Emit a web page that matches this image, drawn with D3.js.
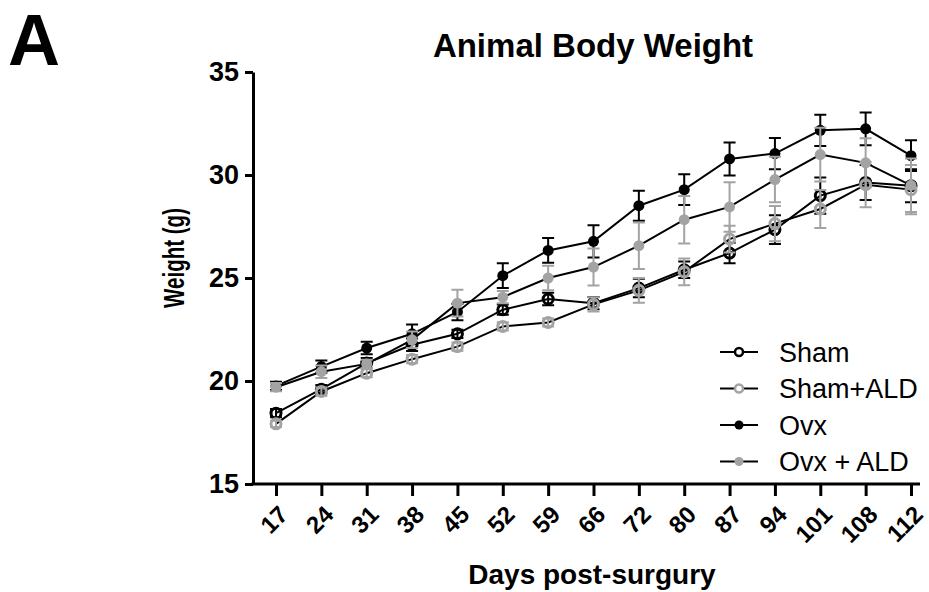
<!DOCTYPE html>
<html>
<head>
<meta charset="utf-8">
<script src="https://cdn.jsdelivr.net/npm/d3@7"></script>
<style>
  body { margin: 0; background: #fff; }
  text { font-family: 'Liberation Sans', Arial, sans-serif; }
</style>
</head>
<body>
<div id="chart"></div>
<script>
// days post-surgery (categorical x axis)
const days = ['17', '24', '31', '38', '45', '52', '59', '66', '72', '80', '87', '94', '101', '108', '112'];
const yTicks = [15, 20, 25, 30, 35];

// mean body weight (g) and error per group
const sham = [18.44, 19.6, 20.87, 21.76, 22.29, 23.46, 23.98, 23.78, 24.51, 25.4, 26.21, 27.35, 29.0, 29.64, 29.48];
const shamErr = [0.2, 0.2, 0.25, 0.3, 0.2, 0.25, 0.3, 0.3, 0.45, 0.4, 0.5, 0.7, 0.88, 0.85, 0.8];
const shamAld = [17.92, 19.49, 20.38, 21.06, 21.67, 22.65, 22.84, 23.72, 24.4, 25.3, 26.89, 27.64, 28.35, 29.53, 29.29];
const shamAldErr = [0.15, 0.2, 0.2, 0.2, 0.2, 0.2, 0.2, 0.35, 0.6, 0.65, 0.65, 0.85, 0.92, 1.1, 1.2];
const ovx = [19.76, 20.7, 21.6, 22.29, 23.35, 25.11, 26.34, 26.78, 28.51, 29.29, 30.78, 31.04, 32.17, 32.24, 30.94];
const ovxErr = [0.2, 0.3, 0.3, 0.45, 0.4, 0.6, 0.6, 0.78, 0.73, 0.75, 0.8, 0.76, 0.76, 0.8, 0.75];
const ovxAld = [19.7, 20.45, 20.83, 22.0, 23.78, 24.07, 25.0, 25.53, 26.57, 27.83, 28.45, 29.78, 30.99, 30.59, 29.5];
const ovxAldErr = [0.2, 0.3, 0.2, 0.4, 0.65, 0.3, 0.6, 0.9, 1.13, 1.15, 1.2, 1.1, 1.3, 1.2, 1.3];

const seriesNames = ['Sham', 'Sham+ALD', 'Ovx', 'Ovx + ALD'];

const grey = '#a3a3a3';
const series = [
  { name: seriesNames[0], values: sham, err: shamErr, color: '#000', open: true },
  { name: seriesNames[1], values: shamAld, err: shamAldErr, color: grey, open: true },
  { name: seriesNames[2], values: ovx, err: ovxErr, color: '#000', open: false },
  { name: seriesNames[3], values: ovxAld, err: ovxAldErr, color: grey, open: false },
];

const W = 929;
const H = 592;
const plot = { left: 253, right: 920, top: 72, bottom: 484 };

const svg = d3.select('#chart').append('svg')
  .attr('width', W)
  .attr('height', H);

const x = d3.scalePoint()
  .domain(days)
  .range([plot.left + 23, plot.right - 9]);

const y = d3.scaleLinear()
  .domain([15, 35])
  .range([plot.bottom, plot.top]);

// panel letter + title
svg.append('text')
  .attr('x', 8)
  .attr('y', 65)
  .attr('font-size', '72px')
  .attr('font-weight', 'bold')
  .text('A');

svg.append('text')
  .attr('x', 593)
  .attr('y', 57)
  .attr('text-anchor', 'middle')
  .attr('font-size', '33px')
  .attr('font-weight', 'bold')
  .text('Animal Body Weight');

// y axis
const yAxis = svg.append('g')
  .attr('transform', `translate(${plot.left},0)`)
  .call(d3.axisLeft(y).tickValues(yTicks).tickSize(8).tickSizeOuter(0).tickPadding(6));
yAxis.select('.domain').attr('stroke-width', 3);
yAxis.selectAll('.tick line').attr('stroke-width', 3);
yAxis.selectAll('.tick text')
  .attr('font-size', '27px')
  .attr('font-weight', 'bold')
  .attr('font-family', 'Liberation Sans, Arial, sans-serif')
  .attr('fill', '#000');

// x axis (domain drawn by hand so it spans the whole plot width)
const xAxis = svg.append('g')
  .attr('transform', `translate(0,${plot.bottom})`)
  .call(d3.axisBottom(x).tickSize(12).tickSizeOuter(0));
xAxis.select('.domain').remove();
xAxis.append('line')
  .attr('x1', plot.left - 1.5)
  .attr('x2', plot.right)
  .attr('stroke', '#000')
  .attr('stroke-width', 3);
xAxis.selectAll('.tick line').attr('stroke-width', 3);
xAxis.selectAll('.tick text')
  .attr('y', 0)
  .attr('dy', 0)
  .attr('text-anchor', 'end')
  .attr('transform', 'translate(13,32) rotate(-45)')
  .attr('font-size', '24px')
  .attr('font-weight', 'bold')
  .attr('font-family', 'Liberation Sans, Arial, sans-serif')
  .attr('fill', '#000');

// axis titles
svg.append('text')
  .attr('transform', 'translate(184,258) rotate(-90)')
  .attr('text-anchor', 'middle')
  .attr('font-size', '29px')
  .attr('font-weight', 'bold')
  .attr('textLength', 100)
  .attr('lengthAdjust', 'spacingAndGlyphs')
  .text('Weight (g)');

svg.append('text')
  .attr('x', 592)
  .attr('y', 584)
  .attr('text-anchor', 'middle')
  .attr('font-size', '28px')
  .attr('font-weight', 'bold')
  .text('Days post-surgury');

const line = d3.line()
  .x((d, i) => x(days[i]))
  .y((d) => y(d));

// connecting lines are black for every group
svg.selectAll('.series-line')
  .data(series)
  .enter().append('path')
  .attr('class', 'series-line')
  .attr('d', (s) => line(s.values))
  .attr('fill', 'none')
  .attr('stroke', '#000')
  .attr('stroke-width', 2);

// error bars + markers per group
series.forEach((s) => {
  const g = svg.append('g');
  const pts = s.values.map((v, i) => ({ day: days[i], v, e: s.err[i] }));

  g.selectAll('.eb')
    .data(pts)
    .enter().append('path')
    .attr('class', 'eb')
    .attr('d', (d) => {
      const cx = x(d.day);
      const y1 = y(d.v + d.e);
      const y2 = y(d.v - d.e);
      return `M${cx},${y1}V${y2}M${cx - 6},${y1}H${cx + 6}M${cx - 6},${y2}H${cx + 6}`;
    })
    .attr('fill', 'none')
    .attr('stroke', s.color)
    .attr('stroke-width', 2);

  g.selectAll('.pt')
    .data(pts)
    .enter().append('circle')
    .attr('class', 'pt')
    .attr('cx', (d) => x(d.day))
    .attr('cy', (d) => y(d.v))
    .attr('r', s.open ? 5 : 5.5)
    .attr('fill', s.open ? 'none' : s.color)
    .attr('stroke', s.open ? s.color : 'none')
    .attr('stroke-width', 3);
});

// legend
const legend = svg.append('g')
  .attr('transform', 'translate(720,352)');

const rows = legend.selectAll('.row')
  .data(series)
  .enter().append('g')
  .attr('class', 'row')
  .attr('transform', (d, i) => `translate(0,${i * 36.5})`);

rows.append('line')
  .attr('x1', 0)
  .attr('x2', 38)
  .attr('stroke', '#000')
  .attr('stroke-width', 2);

rows.append('circle')
  .attr('cx', 19)
  .attr('r', (d) => (d.open ? 4 : 4.5))
  .attr('fill', (d) => (d.open ? '#fff' : d.color))
  .attr('stroke', (d) => (d.open ? d.color : 'none'))
  .attr('stroke-width', 2.5);

rows.append('text')
  .attr('x', 59)
  .attr('dy', '0.36em')
  .attr('font-size', '27px')
  .text((d) => d.name);
</script>
</body>
</html>
